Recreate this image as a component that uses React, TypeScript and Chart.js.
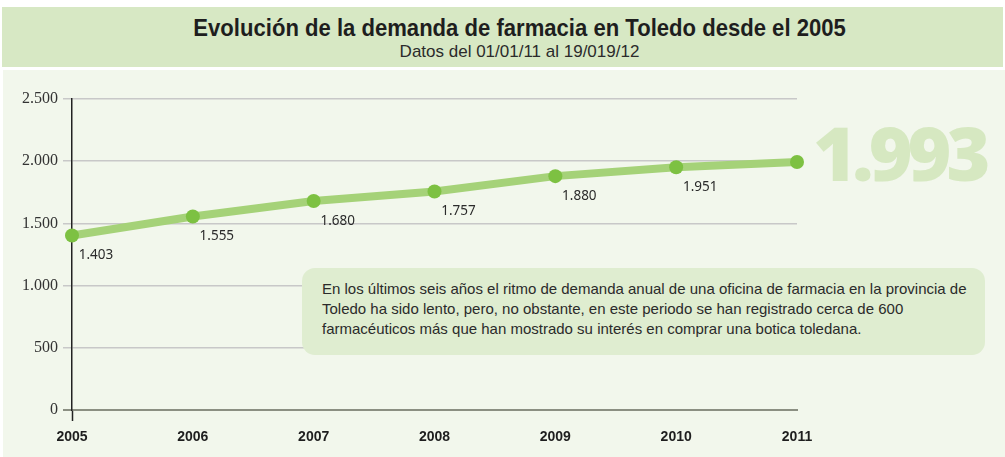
import React, { useEffect, useRef } from "react";
import { Chart, registerables } from "chart.js";

Chart.register(...registerables);

const years = ["2005", "2006", "2007", "2008", "2009", "2010", "2011"];
const demand = [1403, 1555, 1680, 1757, 1880, 1951, 1993];
const pointLabels = ["1.403", "1.555", "1.680", "1.757", "1.880", "1.951", ""];
const yTicks = [0, 500, 1000, 1500, 2000, 2500];

const title = "Evolución de la demanda de farmacia en Toledo desde el 2005";
const subtitle = "Datos del 01/01/11 al 19/019/12";
const bigValue = "1.993";
const noteLines = [
  "En los últimos seis años el ritmo de demanda anual de una oficina de farmacia en la provincia de",
  "Toledo ha sido lento, pero, no obstante, en este periodo se han registrado cerca de 600",
  "farmacéuticos más que han mostrado su interés en comprar una botica toledana.",
];

const fmt = (v: number) => v.toLocaleString("de-DE");

const labelPlugin = {
  id: "pointLabels",
  afterDatasetsDraw(chart: any) {
    const ctx = chart.ctx;
    const meta = chart.getDatasetMeta(0);
    ctx.save();
    ctx.font = "13.5px 'Noto Sans', sans-serif";
    ctx.fillStyle = "#2b2b2b";
    ctx.textAlign = "center";
    ctx.textBaseline = "middle";
    meta.data.forEach((pt: any, i: number) => {
      const t = pointLabels[i];
      if (t) ctx.fillText(t, pt.x + 24, pt.y + 20);
    });
    ctx.restore();
  },
};

export default function App() {
  const ref = useRef<HTMLCanvasElement>(null);
  useEffect(() => {
    if (!ref.current) return;
    const chart = new Chart(ref.current, {
      type: "line",
      data: {
        labels: years,
        datasets: [
          {
            data: demand,
            borderColor: "#a5d278",
            borderWidth: 8,
            pointBackgroundColor: "#7dc142",
            pointBorderColor: "#7dc142",
            pointBorderWidth: 0,
            pointRadius: 7,
            tension: 0,
          },
        ],
      },
      options: {
        animation: false,
        responsive: false,
        maintainAspectRatio: false,
        layout: { padding: { left: 0, right: 208, top: 29, bottom: 0 } },
        plugins: { legend: { display: false }, tooltip: { enabled: false } },
        scales: {
          x: {
            offset: false,
            afterFit: (s: any) => {
              s.height = 47;
            },
            grid: {
              drawOnChartArea: false,
              drawTicks: true,
              tickLength: 11,
              tickWidth: 1.5,
              tickColor: (c: any) => (c.index === 0 ? "#222" : "rgba(0,0,0,0)"),
            },
            border: { display: true, color: "#8b8f82", width: 2 },
            ticks: {
              color: "#1e1e1e",
              padding: 8,
              font: { family: "'Liberation Sans', sans-serif", size: 14, weight: "bold" },
            },
          },
          y: {
            min: 0,
            max: 2500,
            afterFit: (s: any) => {
              s.width = 72;
            },
            afterBuildTicks: (s: any) => {
              s.ticks = yTicks.map((v) => ({ value: v }));
            },
            grid: {
              color: (c: any) => (c.tick && c.tick.value === 0 ? "#8b8f82" : "#c8c8c8"),
              lineWidth: (c: any) => (c.tick && c.tick.value === 0 ? 2 : 1.5),
              tickLength: 9,
              tickColor: (c: any) => (c.tick && c.tick.value === 0 ? "#8b8f82" : "#c8c8c8"),
            },
            border: { display: true, color: "#222", width: 1.5 },
            ticks: {
              color: "#333",
              padding: 5,
              font: { family: "'Liberation Serif', serif", size: 16 },
              callback: (v: any) => fmt(Number(v)),
            },
          },
        },
      },
      plugins: [labelPlugin],
    });
    return () => chart.destroy();
  }, []);

  return (
    <div style={{ position: "absolute", left: 0, top: 0, width: 1005, height: 457, background: "#fff", overflow: "hidden" }}>
      <div
        style={{
          position: "absolute",
          left: 2,
          top: 7,
          width: 1001,
          height: 60,
          background: "#d7e8c4",
          textAlign: "center",
          color: "#1e1e1e",
        }}
      >
        <div style={{ position: "absolute", left: 0, right: 0, top: 7, paddingLeft: 34 }}>
          <span
            style={{
              display: "inline-block",
              fontFamily: "'Liberation Sans', sans-serif",
              fontWeight: "bold",
              fontSize: 24,
              lineHeight: "28px",
              transform: "scaleX(0.92)",
              whiteSpace: "nowrap",
            }}
          >
            {title}
          </span>
        </div>
        <div
          style={{
            position: "absolute",
            left: 0,
            right: 0,
            top: 35,
            fontFamily: "'Liberation Sans', sans-serif",
            fontSize: 17,
            lineHeight: "20px",
            paddingLeft: 34,
            color: "#2b2b2b",
          }}
        >
          {subtitle}
        </div>
      </div>
      <div style={{ position: "absolute", left: 3, top: 70, width: 1002, height: 387, background: "#f2f7ec" }} />
      <div
        style={{
          position: "absolute",
          left: 813,
          top: 102,
          fontFamily: "'Open Sans', sans-serif",
          fontWeight: 800,
          fontSize: 75,
          letterSpacing: -5,
          lineHeight: "100px",
          color: "#d6e8c1",
        }}
      >
        {bigValue}
      </div>
      <canvas ref={ref} width={1005} height={387} style={{ position: "absolute", left: 0, top: 70, width: 1005, height: 387 }} />
      <div
        style={{
          position: "absolute",
          left: 302,
          top: 268,
          width: 683,
          height: 87,
          borderRadius: 13,
          background: "#dfedd0",
        }}
      >
        <div
          style={{
            position: "absolute",
            left: 20,
            top: 11,
            fontFamily: "'Liberation Sans', sans-serif",
            fontSize: 15,
            lineHeight: "20px",
            color: "#2b2b2b",
            whiteSpace: "nowrap",
          }}
        >
          {noteLines.map((l, i) => (
            <div key={i}>{l}</div>
          ))}
        </div>
      </div>
    </div>
  );
}
